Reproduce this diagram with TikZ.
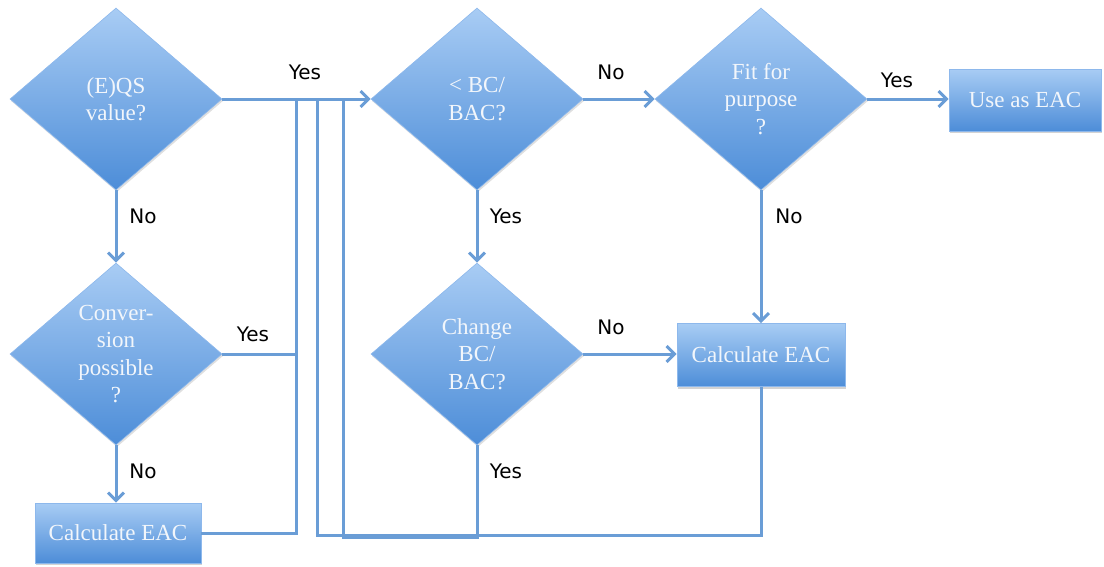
\documentclass[tikz,border=0pt]{standalone}
\usepackage{fontspec}
\setmainfont{Liberation Serif}
\setsansfont{DejaVu Sans}
\usetikzlibrary{shapes.geometric,arrows.meta,shadows}

\definecolor{boxtop}{HTML}{A8CCF4}
\definecolor{boxbottom}{HTML}{4D8DD8}
\definecolor{boxline}{HTML}{8DB8EC}
\definecolor{flowline}{HTML}{6A9DD6}
\definecolor{boxtext}{HTML}{F2F6FB}

\tikzset{
  decision/.style={diamond, minimum width=212pt, minimum height=182pt, inner sep=0pt,
    draw=boxline, line width=0.6pt, top color=boxtop, bottom color=boxbottom,
    text=boxtext, align=center, font=\fontsize{23}{27.5}\selectfont,
    drop shadow={shadow xshift=1pt, shadow yshift=-2pt, opacity=0.25}},
  process/.style={rectangle, inner sep=0pt, draw=boxline, line width=0.6pt,
    top color=boxtop, bottom color=boxbottom, text=boxtext,
    font=\fontsize{23}{27}\selectfont,
    drop shadow={shadow xshift=1pt, shadow yshift=-2pt, opacity=0.35}},
  flow/.style={draw=flowline, line width=3pt},
  arr/.style={flow, -{Straight Barb[length=8pt, width=16pt]}},
  answer/.style={font=\sffamily\fontsize{20}{24}\selectfont}
}

\begin{document}
\begin{tikzpicture}[x=1pt, y=-1pt]
\useasboundingbox (0,0) rectangle (1104,566);

% decisions
\node[decision] (qs)     at (116,99)  {(E)QS\\value?};
\node[decision] (conv)   at (116,354) {Conver-\\sion\\possible\\?};
\node[decision] (bcbac)  at (477,99)  {< BC/\\BAC?};
\node[decision] (change) at (477,354) {Change\\BC/\\BAC?};
\node[decision] (fit)    at (761,99)  {Fit for\\purpose\\?};

% actions
\node[process, minimum width=166pt, minimum height=60pt] (calcA) at (118,533) {Calculate EAC};
\node[process, minimum width=168pt, minimum height=63pt] (calcB) at (761,355) {Calculate EAC};
\node[process, minimum width=152pt, minimum height=62pt] (useeac) at (1025,100) {Use as EAC};

% junctions of the return lines
\coordinate (joinA) at (296,99);
\coordinate (joinB) at (317,99);
\coordinate (joinC) at (343,99);
\coordinate (baseB) at (317,535);
\coordinate (baseC) at (343,537);

\draw[arr] (qs.east) -- (bcbac.west);
\draw[arr] (qs.south) -- (conv.north);
\draw[arr] (conv.south) -- (conv.south |- calcA.north);
\draw[flow] (conv.east) -| (joinA);
\draw[flow] (calcA.east) -| (joinA);
\draw[flow] (calcB.south) |- (baseB) -- (joinB);
\draw[flow] (change.south) |- (baseC) -- (joinC);
\draw[arr] (bcbac.south) -- (change.north);
\draw[arr] (bcbac.east) -- (fit.west);
\draw[arr] (change.east) -- (change.east -| calcB.west);
\draw[arr] (fit.south) -- (calcB.north);
\draw[arr] (fit.east) -- (fit.east -| useeac.west);

% answers
\node[answer] (a1)  at (305,72)  {Yes};
\node[answer] (a2)  at (143,216) {No};
\node[answer] (a3)  at (253,334) {Yes};
\node[answer] (a4)  at (143,471) {No};
\node[answer] (a5)  at (506,216) {Yes};
\node[answer] (a6)  at (611,72)  {No};
\node[answer] (a7)  at (611,327) {No};
\node[answer] (a8)  at (506,471) {Yes};
\node[answer] (a9)  at (789,216) {No};
\node[answer] (a10) at (897,80)  {Yes};
\end{tikzpicture}
\end{document}
